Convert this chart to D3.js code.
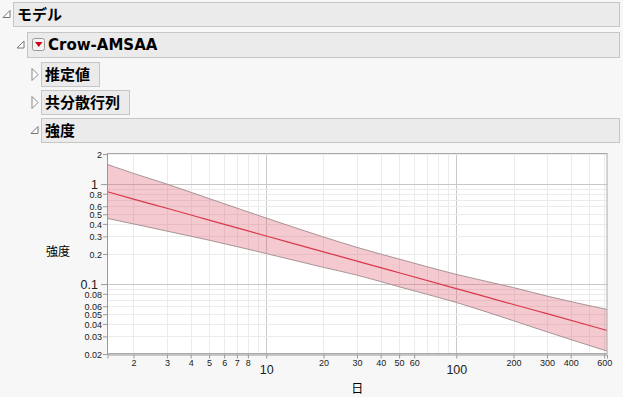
<!DOCTYPE html>
<html>
<head>
<meta charset="utf-8">
<script src="https://cdn.jsdelivr.net/npm/d3@7"></script>
<style>
  body { margin: 0; background: #f7f7f7; }
  svg { display: block; }
</style>
</head>
<body>
<script>
var w = 623;
var h = 397;

// data
var days = [1.46, 2, 3, 5, 10, 20, 30, 50, 100, 200, 300, 621];
var intensity = [0.838, 0.708, 0.573, 0.437, 0.303, 0.210, 0.170, 0.130, 0.0902, 0.0625, 0.0506, 0.0344];
var upper = [1.57, 1.28, 1.0, 0.716, 0.457, 0.296, 0.233, 0.178, 0.125, 0.0923, 0.0759, 0.0558];
var lower = [0.454, 0.40, 0.339, 0.275, 0.202, 0.147, 0.123, 0.094, 0.0656, 0.043, 0.0333, 0.0214];

var xTicks = [2, 3, 4, 5, 6, 7, 8, 10, 20, 30, 40, 50, 60, 100, 200, 300, 400, 600];
var xGrid = [2, 3, 4, 5, 6, 7, 8, 9, 10, 20, 30, 40, 50, 60, 70, 80, 90, 100, 200, 300, 400, 500, 600];
var yTicks = [2, 1, 0.8, 0.6, 0.5, 0.4, 0.3, 0.2, 0.1, 0.08, 0.06, 0.05, 0.04, 0.03, 0.02];
var yGrid = [2, 1, 0.9, 0.8, 0.7, 0.6, 0.5, 0.4, 0.3, 0.2, 0.1, 0.09, 0.08, 0.07, 0.06, 0.05, 0.04, 0.03, 0.02];
var bigTicks = [1, 0.1, 10, 100];

var headers = [
  {label: "モデル", x: 13, y: 2, w: 606, tri: "open", triX: 3},
  {label: "Crow-AMSAA", x: 27, y: 32, w: 592, tri: "open", triX: 17, menu: true},
  {label: "推定値", x: 41, y: 62, w: 58, tri: "closed", triX: 32},
  {label: "共分散行列", x: 41, y: 90, w: 88, tri: "closed", triX: 32},
  {label: "強度", x: 41, y: 118, w: 578, tri: "open", triX: 31}
];

var pLeft = 107.5, pRight = 607, pTop = 154, pBottom = 354;

var xScale = d3.scaleLog()
    .domain([1.46, 621])
    .range([pLeft, pRight]);

var yScale = d3.scaleLog()
    .domain([0.02, 2])
    .range([pBottom, pTop]);

var svg = d3.select("body")
    .append("svg")
    .attr("width", w)
    .attr("height", h);

// outline headers
headers.forEach(function(d) {
    var hh = d.menu ? 25 : 24;
    svg.append("rect")
        .attr("x", d.x + 0.5).attr("y", d.y + 0.5)
        .attr("width", d.w).attr("height", hh)
        .attr("fill", "#ebebeb")
        .attr("stroke", "#c6c6c6");
    var cy = d.y + hh / 2 + 0.5;
    if (d.tri == "open") {
        svg.append("path")
            .attr("d", "M" + (d.triX + 7) + "," + (cy - 4) + "L" + (d.triX + 7) + "," + (cy + 3) + "L" + d.triX + "," + (cy + 3) + "Z")
            .attr("fill", "#fff").attr("stroke", "#777");
    } else {
        svg.append("path")
            .attr("d", "M" + d.triX + "," + (cy - 6) + "L" + (d.triX + 6) + "," + cy + "L" + d.triX + "," + (cy + 6) + "Z")
            .attr("fill", "#fff").attr("stroke", "#888");
    }
    var tx = d.x + 4;
    if (d.menu) {
        svg.append("rect")
            .attr("x", 32.5).attr("y", 38.5).attr("width", 12).attr("height", 12).attr("rx", 2)
            .attr("fill", "#f4f4f4").attr("stroke", "#999");
        svg.append("path")
            .attr("d", "M35,42L42.5,42L38.75,47Z")
            .attr("fill", "#d0021b");
        tx = 48;
    }
    svg.append("text")
        .attr("x", tx).attr("y", d.y + 18)
        .attr("font-family", d.menu ? "'DejaVu Sans', sans-serif" : "'Noto Sans CJK JP', sans-serif")
        .attr("font-weight", "bold")
        .attr("font-size", "15px")
        .text(d.label);
});

// plot area
svg.append("rect")
    .attr("x", pLeft).attr("y", pTop)
    .attr("width", pRight - pLeft).attr("height", pBottom - pTop)
    .attr("fill", "#fff");

svg.selectAll(".xg")
    .data(xGrid)
    .enter()
    .append("line")
    .attr("x1", function(d) { return Math.round(xScale(d)) + 0.5; })
    .attr("x2", function(d) { return Math.round(xScale(d)) + 0.5; })
    .attr("y1", pTop).attr("y2", pBottom)
    .attr("stroke", function(d) { return bigTicks.indexOf(d) >= 0 ? "#c8c8c8" : "#ebebeb"; })
    .attr("stroke-width", 1);

svg.selectAll(".yg")
    .data(yGrid)
    .enter()
    .append("line")
    .attr("y1", function(d) { return Math.round(yScale(d)) + 0.5; })
    .attr("y2", function(d) { return Math.round(yScale(d)) + 0.5; })
    .attr("x1", pLeft).attr("x2", pRight)
    .attr("stroke", function(d) { return bigTicks.indexOf(d) >= 0 ? "#c8c8c8" : "#ebebeb"; })
    .attr("stroke-width", 1);

// confidence band
var band = d3.area()
    .x(function(d, i) { return xScale(days[i]); })
    .y0(function(d, i) { return yScale(lower[i]); })
    .y1(function(d, i) { return yScale(upper[i]); })
    .curve(d3.curveMonotoneX);

svg.append("path")
    .datum(days)
    .attr("d", band)
    .attr("fill", "rgba(221, 90, 110, 0.33)");

var seriesLine = d3.line()
    .x(function(d, i) { return xScale(days[i]); })
    .y(function(d) { return yScale(d); })
    .curve(d3.curveMonotoneX);

svg.append("path").datum(upper).attr("d", seriesLine)
    .attr("fill", "none").attr("stroke", "#a89496").attr("stroke-width", 1);
svg.append("path").datum(lower).attr("d", seriesLine)
    .attr("fill", "none").attr("stroke", "#a89496").attr("stroke-width", 1);
svg.append("path").datum(intensity).attr("d", seriesLine)
    .attr("fill", "none").attr("stroke", "#d83a4c").attr("stroke-width", 1.2);

// frame
svg.append("rect")
    .attr("x", pLeft).attr("y", pTop - 0.5)
    .attr("width", pRight - pLeft).attr("height", pBottom - pTop)
    .attr("fill", "none")
    .attr("stroke", "#aaa");

// axes
var xAxis = d3.axisBottom(xScale)
    .tickValues(xTicks)
    .tickSize(4)
    .tickFormat(function(d) { return d; });

var yAxis = d3.axisLeft(yScale)
    .tickValues(yTicks)
    .tickSize(4)
    .tickFormat(function(d) { return d; });

var gx = svg.append("g")
    .attr("transform", "translate(0," + (pBottom + 0.5) + ")")
    .call(xAxis);

var gy = svg.append("g")
    .attr("transform", "translate(" + (pLeft - 0.5) + ",0)")
    .call(yAxis);

[gx, gy].forEach(function(g) {
    g.select(".domain").attr("stroke", "#999");
    g.selectAll(".tick line").attr("stroke", "#999");
    g.selectAll(".tick text")
        .attr("fill", "#222")
        .attr("font-family", "'Liberation Sans', sans-serif")
        .attr("font-size", function(d) { return bigTicks.indexOf(d) >= 0 ? "12.5px" : "9px"; });
});

gx.selectAll(".tick text")
    .attr("dy", null)
    .attr("y", function(d) { return bigTicks.indexOf(d) >= 0 ? 19 : 11.5; });

gy.selectAll(".tick line")
    .attr("x2", function(d) { return bigTicks.indexOf(d) >= 0 ? -6 : -4; });
gy.selectAll(".tick text")
    .attr("x", function(d) { return bigTicks.indexOf(d) >= 0 ? -9 : -5; })
    .attr("dy", "0.36em");

// axis labels
svg.append("text")
    .attr("text-anchor", "middle")
    .attr("x", (pLeft + pRight) / 2)
    .attr("y", 393)
    .attr("font-family", "'Noto Sans CJK JP', sans-serif")
    .attr("font-size", "12px")
    .text("日");

svg.append("text")
    .attr("text-anchor", "middle")
    .attr("x", 58)
    .attr("y", 256)
    .attr("font-family", "'Noto Sans CJK JP', sans-serif")
    .attr("font-size", "12px")
    .text("強度");
</script>
</body>
</html>
